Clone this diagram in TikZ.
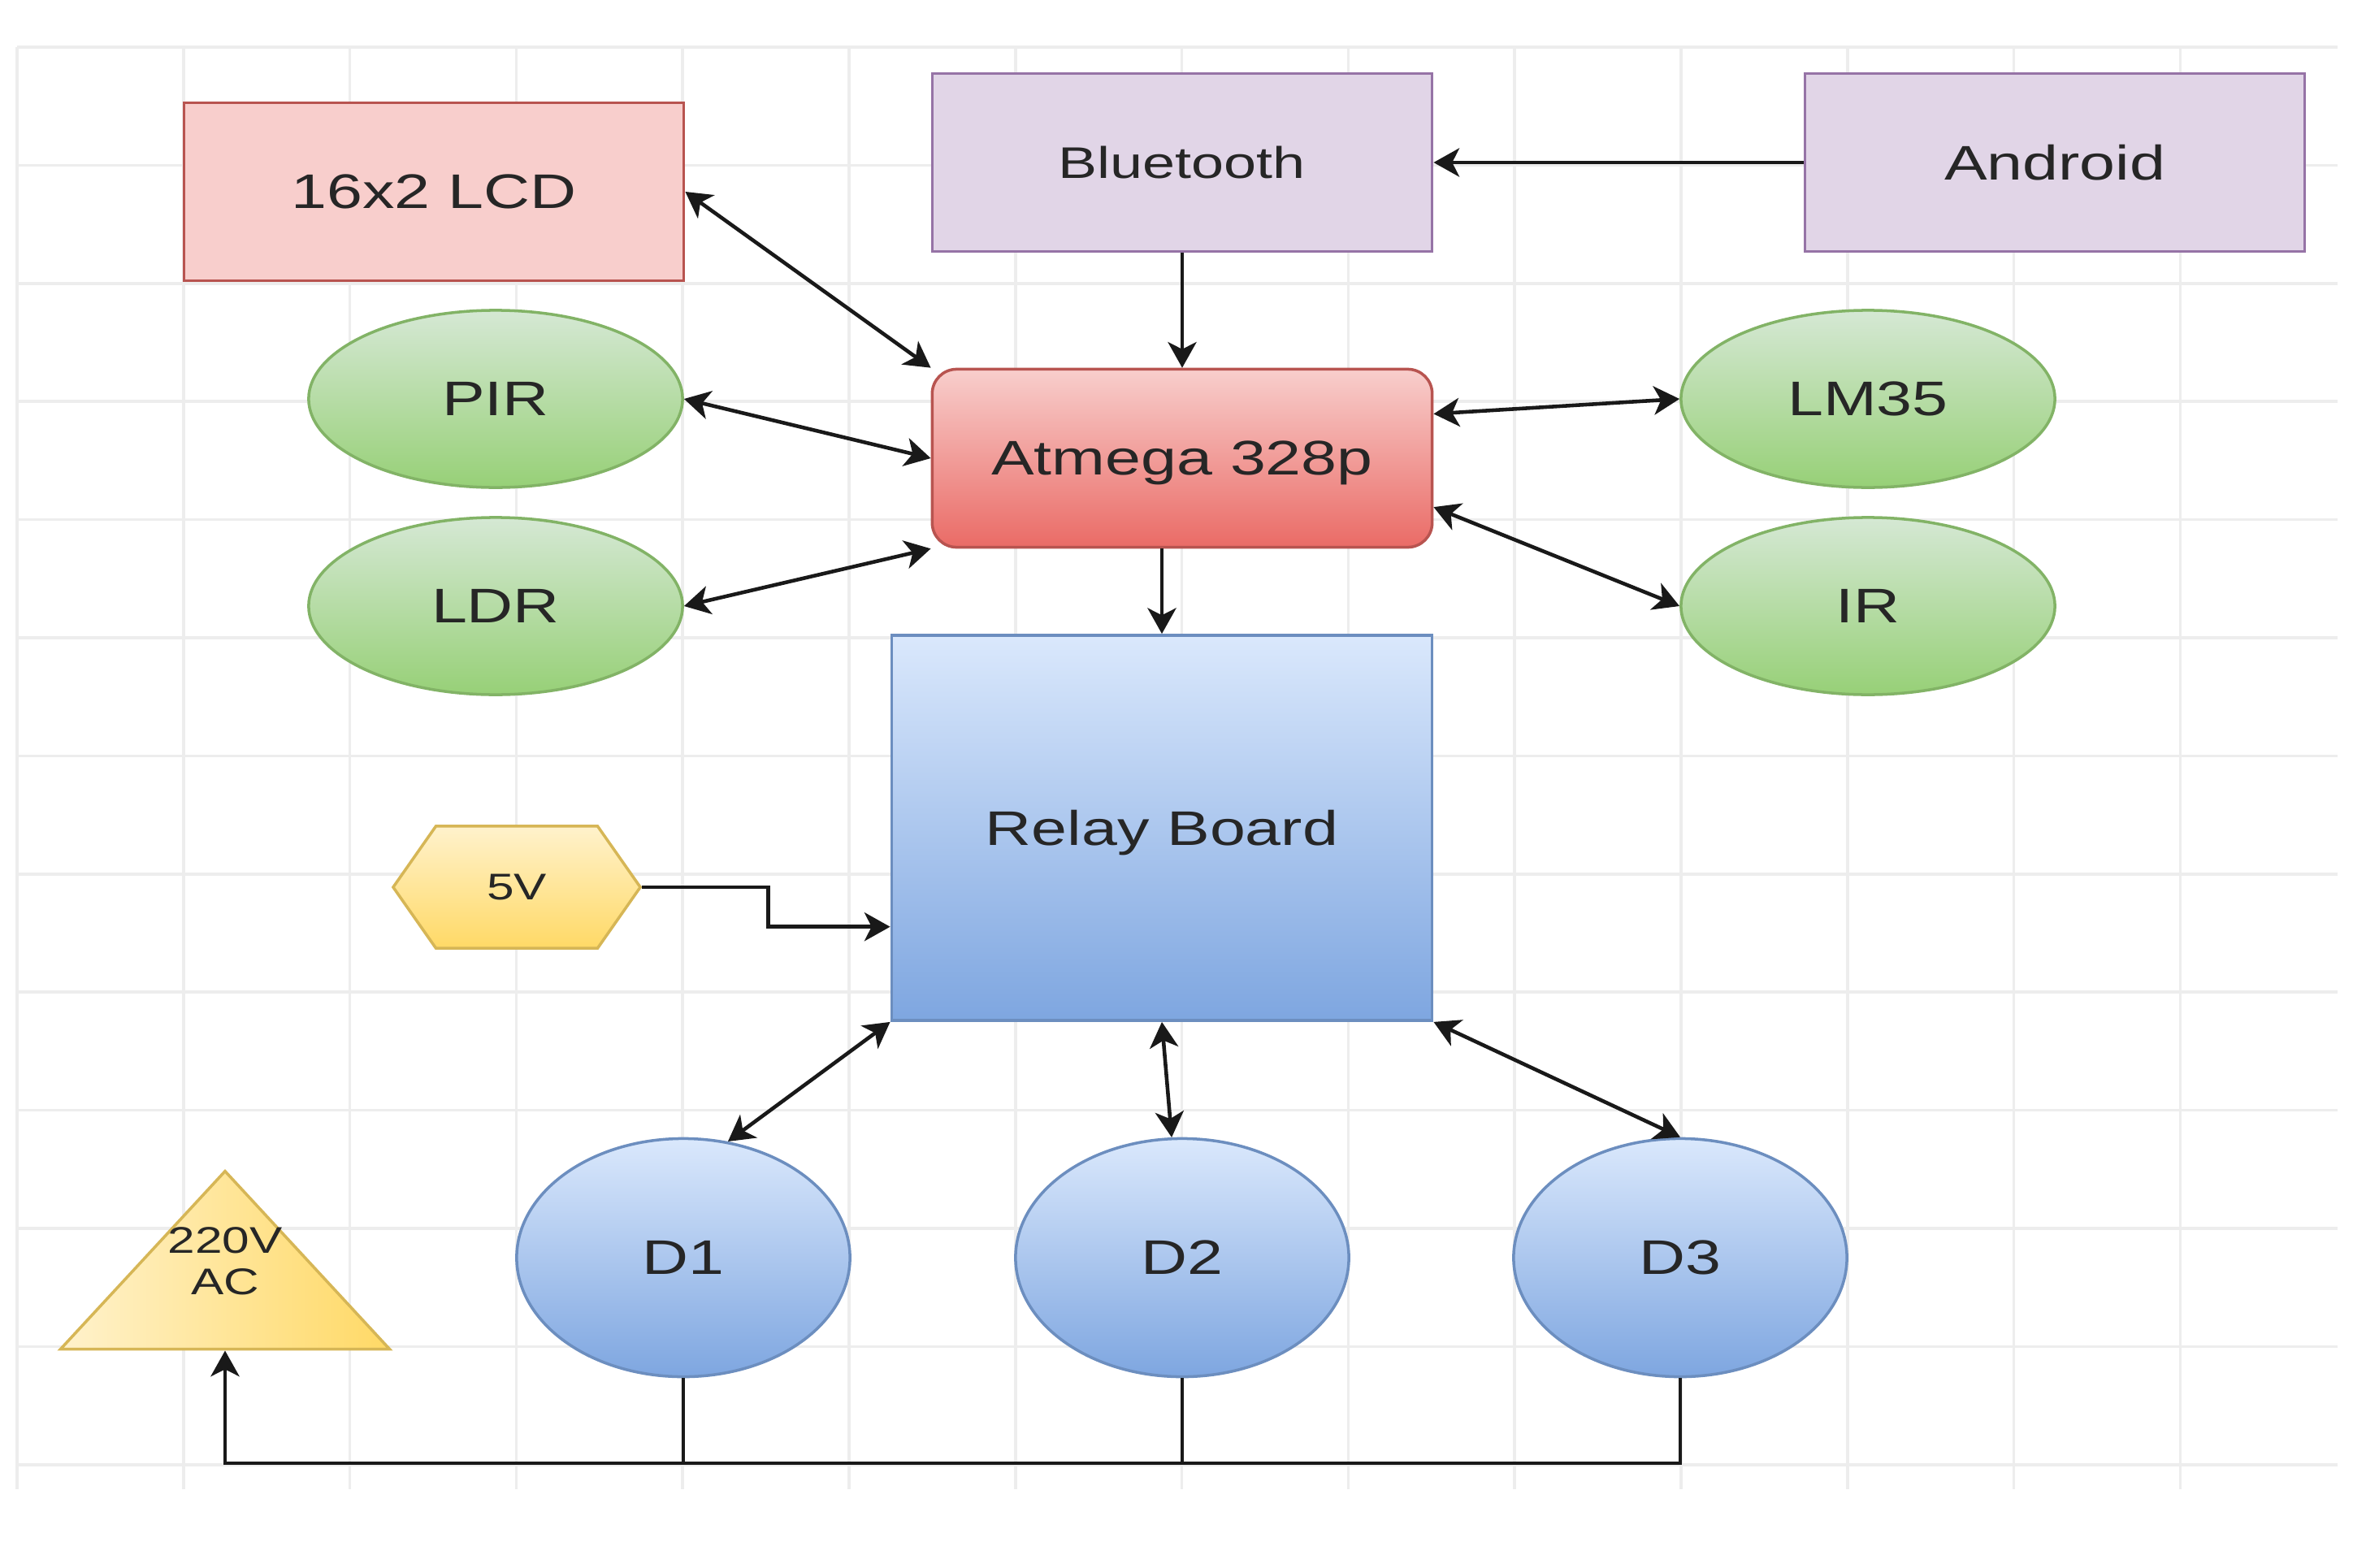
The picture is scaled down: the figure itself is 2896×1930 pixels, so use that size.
\documentclass[tikz,border=0pt]{standalone}
\usepackage{fontspec}
\setmainfont{Liberation Sans}[FakeStretch=1.32]
\usetikzlibrary{shapes.geometric,shapes.symbols,arrows.meta}

\definecolor{redfill}{HTML}{F8CECC}
\definecolor{redline}{HTML}{B85450}
\definecolor{reddark}{HTML}{EA6B66}
\definecolor{purfill}{HTML}{E1D5E7}
\definecolor{purline}{HTML}{9673A6}
\definecolor{grnfill}{HTML}{D5E8D4}
\definecolor{grndark}{HTML}{97D077}
\definecolor{grnline}{HTML}{82B366}
\definecolor{blufill}{HTML}{DAE8FC}
\definecolor{bludark}{HTML}{7EA6E0}
\definecolor{bluline}{HTML}{6C8EBF}
\definecolor{yelfill}{HTML}{FFF2CC}
\definecolor{yeldark}{HTML}{FFD966}
\definecolor{yelline}{HTML}{D6B656}

\tikzset{every node/.style={inner sep=0pt,text depth=0pt,text=black!85,font=\fontsize{17}{20}\selectfont}}

\begin{document}
\begin{tikzpicture}[x=0.01cm,y=-0.01cm,>={Stealth[length=9pt,width=10pt,inset=2.5pt]}]
\useasboundingbox (0,0) rectangle (2896,1930);

\tikzstyle{gridline}=[black!7,line width=1pt]
\foreach \i in {0,...,13}
  \draw[gridline] (21+204.8*\i,58) -- (21+204.8*\i,1833);
\foreach \j in {0,...,12}
  \draw[gridline] (21,58+145.4*\j) -- (2877,58+145.4*\j);

\tikzstyle{box}=[shape=rectangle,line width=1pt,minimum width=6.15cm,minimum height=2.19cm]
\tikzstyle{lcd}=[box,fill=redfill,draw=redline]
\tikzstyle{radio}=[box,fill=purfill,draw=purline]
\tikzstyle{mcu}=[box,rounded corners=0.3cm,draw=redline,top color=redfill,bottom color=reddark]
\tikzstyle{sensor}=[ellipse,line width=1pt,draw=grnline,top color=grnfill,bottom color=grndark,minimum width=4.6cm,minimum height=2.18cm]
\tikzstyle{board}=[shape=rectangle,line width=1pt,draw=bluline,top color=blufill,bottom color=bludark,minimum width=6.65cm,minimum height=4.74cm]
\tikzstyle{dev}=[ellipse,line width=1pt,draw=bluline,top color=blufill,bottom color=bludark,minimum width=4.1cm,minimum height=2.93cm]
\tikzstyle{supply}=[signal,signal to=west and east,signal pointer angle=110,line width=1pt,draw=yelline,top color=yelfill,bottom color=yeldark,minimum width=3.04cm,minimum height=1.5cm,font=\fontsize{13}{15}\selectfont]
\tikzstyle{mains}=[isosceles triangle,isosceles triangle stretches,shape border rotate=90,line width=1pt,draw=yelline,left color=yelfill,right color=yeldark,minimum width=4.05cm,minimum height=2.19cm]

\node[lcd] (lcd) at (534,236) {16x2 LCD};
\node[radio,font=\fontsize{15.5}{18}\selectfont] (bt) at (1455,200) {Bluetooth};
\node[radio] (android) at (2529,200) {Android};
\node[mcu] (atmega) at (1455,564) {Atmega 328p};
\node[sensor] (pir) at (610,491) {PIR};
\node[sensor] (ldr) at (610,746) {LDR};
\node[sensor] (lm35) at (2299,491) {LM35};
\node[sensor] (ir) at (2299,746) {IR};
\node[board] (relay) at (1430,1019) {Relay Board};
\node[supply] (fivev) at (636,1092) {5V};
\node[mains,anchor=apex,label={[align=center,yshift=0.2cm,font=\fontsize{13}{14.5}\selectfont]center:{220V\\AC}}] (ac) at (277,1437) {};
\node[dev] (d1) at (841,1548) {D1};
\node[dev] (d2) at (1455,1548) {D2};
\node[dev] (d3) at (2068,1548) {D3};
\coordinate (bus) at (277,1801);

\tikzstyle{link}=[line width=1.3pt,black!90]
\draw[link,->] (android) -- (bt);
\draw[link,->] (bt) -- (atmega);
\draw[link,<->] (lcd.east) -- (atmega.north west);
\draw[link,<->] (pir.east) -- (atmega.west);
\draw[link,<->] (ldr.east) -- (atmega.south west);
\draw[link,<->] (atmega.10) -- (lm35.west);
\draw[link,<->] (atmega.-11) -- (ir.west);
\draw[link,->] (atmega.south -| relay.north) -- (relay.north);
\draw[link,->] (fivev.east) -- ++(155,0) |- (relay.200);
\draw[link,<->] (relay.south west) -- (d1.69);
\draw[link,<->] (relay.south) -- (d2.95);
\draw[link,<->] (relay.south east) -- (d3.north);
\draw[link] (d1.south) -- (d1.south |- bus);
\draw[link] (d2.south) -- (d2.south |- bus);
\draw[link,->] (d3.south) |- (bus) -- (ac.south);

\end{tikzpicture}
\end{document}
